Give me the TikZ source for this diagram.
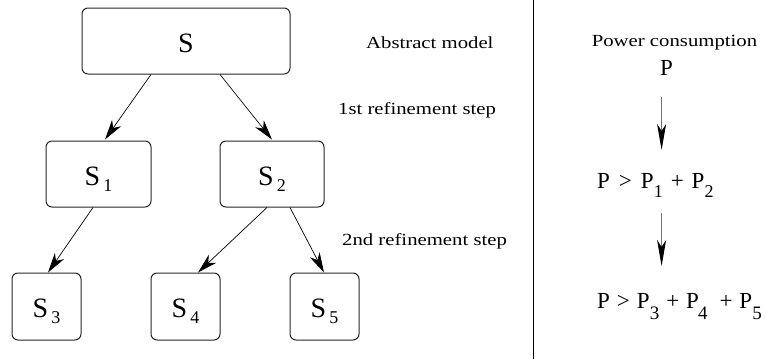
\documentclass[tikz,border=0pt]{standalone}
\usepackage{fontspec}
\setmainfont{Liberation Serif}
\newfontfamily\lblfont[FakeStretch=1.22]{Liberation Serif}
\usetikzlibrary{arrows.meta}
\newcommand\ssub[1]{\kern3pt\raisebox{-6pt}{\fontsize{18}{18}\selectfont #1}}
\newcommand\psubA[2][0pt]{\kern#1\raisebox{-9pt}{\fontsize{18}{18}\selectfont #2}}
\newcommand\psubB[2][0pt]{\kern#1\raisebox{-11pt}{\fontsize{19}{19}\selectfont #2}}
\newcommand\gap[1][7pt]{\hspace*{#1}}
\begin{document}
\begin{tikzpicture}[x=1pt,y=-1pt,
  box/.style={draw=black!85, line width=1pt, rounded corners=6pt, inner sep=0pt,
    font=\fontsize{28}{28}\selectfont, text height=22.5pt, text depth=0pt},
  arr/.style={line width=0.7pt, -{Stealth[length=20pt,width=11pt,inset=6pt]}},
  parr/.style={draw=black!55, line width=1pt, -{Stealth[length=26pt,width=9pt,inset=7pt,black]}},
  lbl/.style={font=\lblfont\fontsize{17}{17}\selectfont, inner sep=0pt, anchor=base west},
  pt/.style={font=\fontsize{23}{23}\selectfont, inner sep=0pt, anchor=base west}]
\useasboundingbox (0,0) rectangle (766,359);

% tree boxes
\node[box, minimum width=208pt, minimum height=66pt] (S)  at (186,41)    {S};
\node[box, minimum width=105pt, minimum height=66pt] (S1) at (98.5,174)  {S\ssub{1}};
\node[box, minimum width=104pt, minimum height=66pt] (S2) at (272,174)   {S\ssub{2}};
\node[box, minimum width=69pt,  minimum height=67pt] (S3) at (46.5,306.5) {S\ssub{3}};
\node[box, minimum width=69pt,  minimum height=67pt] (S4) at (185.5,306.5){S\ssub{4}};
\node[box, minimum width=69pt,  minimum height=67pt] (S5) at (324.5,306.5){S\ssub{5}};

% tree arrows
\draw[arr] ([xshift=-35pt]S.south)  -- ([xshift=6.5pt,yshift=1pt]S1.north);
\draw[arr] ([xshift=34pt]S.south)   -- ([yshift=1pt]S2.north);
\draw[arr] ([xshift=-5.5pt]S1.south) -- ([xshift=1.5pt]S3.north);
\draw[arr] ([xshift=-5pt]S2.south)  -- ([xshift=12.5pt]S4.north);
\draw[arr] ([xshift=18pt]S2.south)  -- ([xshift=-0.5pt]S5.north);

% labels
\node[lbl] (l0) at (366,48)  {Abstract model};
\node[lbl] (l1) at (338,114) {1st refinement step};
\node[lbl] (l2) at (342,245) {2nd refinement step};

% divider
\coordinate (dtop) at (533,0);
\coordinate (dbot) at (533,359);
\draw[line width=1pt] (dtop) -- (dbot);

% right panel
\node[lbl, anchor=base] (pc) at (674.5,46) {Power consumption};
\node[pt] (P0) at (660,75) {P};
\node[pt] (P12) at (597,188) {P\gap[9pt]>\gap[9pt]P\psubA{1}\gap[8pt]+\gap[8pt]P\psubA{2}};
\node[pt] (P345) at (597,308) {P\gap>\gap P\psubB{3}\gap+\gap P\psubB[-1pt]{4}\gap[12pt]+\gap P\psubB{5}};

\draw[parr] ([xshift=-5pt,yshift=-22pt]P0.base) -- ([xshift=-5pt,yshift=38pt]P0.base |- P12.base);
\draw[parr] ([xshift=-5pt,yshift=-25pt]P0.base |- P12.base) -- ([xshift=-5pt,yshift=42pt]P0.base |- P345.base);
\end{tikzpicture}
\end{document}
